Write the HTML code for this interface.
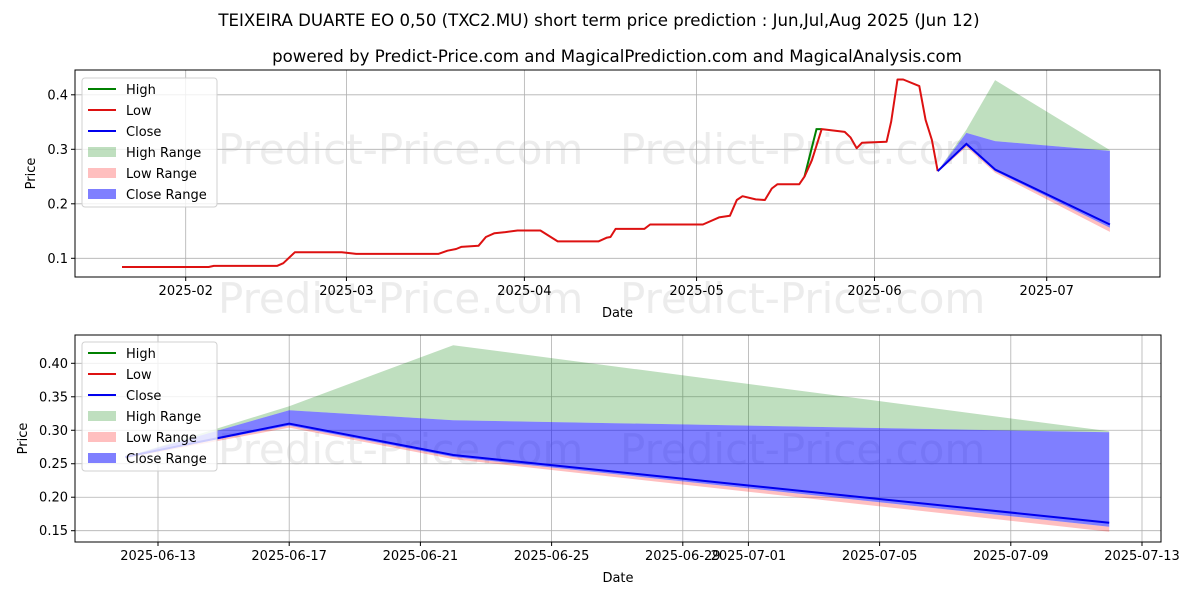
<!DOCTYPE html>
<html><head><meta charset="utf-8"><style>
body{margin:0;background:#fff;}
svg{font-family:"DejaVu Sans","Liberation Sans",sans-serif;}
</style></head><body>
<svg id="c" width="1200" height="600" viewBox="0 0 1200 600">
<text x="599" y="26" text-anchor="middle" font-size="16.6">TEIXEIRA DUARTE EO 0,50 (TXC2.MU) short term price prediction : Jun,Jul,Aug 2025 (Jun 12)</text>
<text x="617" y="62" text-anchor="middle" font-size="16.6">powered by Predict-Price.com and MagicalPrediction.com and MagicalAnalysis.com</text>
</svg>
<script>
// Day-of-year (Jan 1 = 0) historical data
const histDays=[19.9,35,35.9,46.9,48,50,58.2,60.7,75,76.6,78.1,79,82,83.3,84.8,86.7,88.8,92.8,95.8,102.9,104.4,105,105.9,110.9,111.9,121.1,123.9,125.8,127,128,130.3,131.9,133.1,134.1,137.9,138.8,140.1,141.8,145.8,146.8,147.9,148.8,153.1,153.9,155,156,158.8,159.9,161,162];
const histLow=[0.084,0.084,0.086,0.086,0.091,0.111,0.111,0.108,0.108,0.114,0.117,0.121,0.123,0.139,0.146,0.148,0.151,0.151,0.131,0.131,0.138,0.139,0.154,0.154,0.162,0.162,0.175,0.178,0.207,0.214,0.208,0.207,0.228,0.236,0.236,0.25,0.28,0.337,0.332,0.322,0.302,0.312,0.314,0.351,0.428,0.428,0.416,0.354,0.317,0.26];
const highDays=[138.8,140.9,141.8];
const highVals=[0.25,0.337,0.337];
// forecast points (day of year): Jun12, Jun17, Jun22, Jul12
const fcDays=[162,167,172,192];
const fcHighTop=[0.26,0.336,0.427,0.2985];
const fcCloseTop=[0.26,0.330,0.315,0.297];
const fcClose=[0.26,0.310,0.263,0.162];
const fcCloseBot=[0.26,0.307,0.260,0.156];
const fcLowBot=[0.258,0.304,0.257,0.1485];
const topXTicks=[[31,'2025-02'],[59,'2025-03'],[90,'2025-04'],[120,'2025-05'],[151,'2025-06'],[181,'2025-07']];
const topYTicks=[0.1,0.2,0.3,0.4];
const botXTicks=[[163,'2025-06-13'],[167,'2025-06-17'],[171,'2025-06-21'],[175,'2025-06-25'],[179,'2025-06-29'],[181,'2025-07-01'],[185,'2025-07-05'],[189,'2025-07-09'],[193,'2025-07-13']];
const botYTicks=[0.15,0.20,0.25,0.30,0.35,0.40];

const svg=document.getElementById('c');
const NS='http://www.w3.org/2000/svg';
function mk(tag,attrs,parent){const e=document.createElementNS(NS,tag);for(const k in attrs)e.setAttribute(k,attrs[k]);(parent||svg).appendChild(e);return e;}
function pts(xs,ys,X,Y){return xs.map((d,i)=>X(d).toFixed(1)+','+Y(ys[i]).toFixed(1)).join(' ');}
function band(xs,top,bot,X,Y){return pts(xs,top,X,Y)+' '+pts(xs.slice().reverse(),bot.slice().reverse(),X,Y);}

function panel(cfg){
  const {L,R,T,B,X,Y,xt,yt,yfmt,name,hist}=cfg;
  const g=mk('g',{});
  
  
  cfg.wm.forEach(w=>{const t=mk('text',{x:w[0],y:w[1],'font-size':42,fill:'#ececec'},g);t.textContent='Predict-Price.com';});
  xt.forEach(t=>{const l=mk('line',{x1:X(t[0]),x2:X(t[0]),y1:T,y2:B,stroke:'#b0b0b0','stroke-width':0.8},g);});
  yt.forEach(v=>{const l=mk('line',{x1:L,x2:R,y1:Y(v),y2:Y(v),stroke:'#b0b0b0','stroke-width':0.8},g);});
  let p=mk('polygon',{points:band(fcDays,fcHighTop,fcCloseTop,X,Y),fill:'#008000','fill-opacity':0.25},g);
  
  p=mk('polygon',{points:band(fcDays,fcCloseBot,fcLowBot,X,Y),fill:'#ff0000','fill-opacity':0.25},g);
  
  p=mk('polygon',{points:band(fcDays,fcCloseTop,fcCloseBot,X,Y),fill:'#0000ff','fill-opacity':0.5},g);
  
  if(hist){
    p=mk('polyline',{points:pts(highDays,highVals,X,Y),fill:'none',stroke:'#008000','stroke-width':2},g);
    
    p=mk('polyline',{points:pts(histDays,histLow,X,Y),fill:'none',stroke:'#dd1111','stroke-width':2,'stroke-linejoin':'round'},g);
    
  }
  p=mk('polyline',{points:pts(fcDays,fcClose,X,Y),fill:'none',stroke:'#0000ee','stroke-width':2},g);
  
  p=mk('rect',{x:L,y:T,width:R-L,height:B-T,fill:'none',stroke:'#000','stroke-width':1},g);
  
  xt.forEach(t=>{mk('line',{x1:X(t[0]),x2:X(t[0]),y1:B,y2:B+4,stroke:'#000'},g);const s=mk('text',{x:X(t[0]),y:B+18,'text-anchor':'middle','font-size':13},g);s.textContent=t[1];});
  yt.forEach(v=>{mk('line',{x1:L-4,x2:L,y1:Y(v),y2:Y(v),stroke:'#000'},g);const s=mk('text',{x:L-7,y:Y(v)+4.5,'text-anchor':'end','font-size':13},g);s.textContent=yfmt(v);});
  let s=mk('text',{x:(L+R)/2,y:B+40,'text-anchor':'middle','font-size':13},g);s.textContent='Date';
  
  s=mk('text',{x:0,y:0,'text-anchor':'middle','font-size':13,transform:`translate(${cfg.ylx},${(T+B)/2}) rotate(-90)`},g);s.textContent='Price';
  
  const lx=82,ly=cfg.legY;
  const lg=mk('g',{},g);
  
  mk('rect',{x:lx,y:ly,width:135,height:129,rx:3,fill:'#fff','fill-opacity':0.8,stroke:'#d0d0d0'},lg);
  const items=[['High','line','#008000',1],['Low','line','#dd1111',1],['Close','line','#0000ee',1],['High Range','box','#008000',0.25],['Low Range','box','#ff0000',0.25],['Close Range','box','#0000ff',0.5]];
  items.forEach((it,i)=>{const cy=ly+11+i*21;
    if(it[1]=='line')mk('line',{x1:lx+6,x2:lx+34,y1:cy,y2:cy,stroke:it[2],'stroke-width':2},lg);
    else mk('rect',{x:lx+6,y:cy-5,width:28,height:10,fill:it[2],'fill-opacity':it[3]},lg);
    const t=mk('text',{x:lx+44,y:cy+5,'font-size':13},lg);t.textContent=it[0];
    });
}
panel({name:'top-panel',L:75,R:1160,T:70,B:277,hist:true,
  X:d=>122+(d-19.9)*5.74,Y:v=>258.3-(v-0.1)*545,xt:topXTicks,yt:topYTicks,yfmt:v=>v.toFixed(1),ylx:35,legY:78,
  wm:[[218,164],[620,164],[218,313],[620,313]]});
panel({name:'bottom-panel',L:75,R:1161,T:335,B:542,hist:false,
  X:d=>158+(d-163)*32.8,Y:v=>530.7-(v-0.15)*669.6,xt:botXTicks,yt:botYTicks,yfmt:v=>v.toFixed(2),ylx:27,legY:342,
  wm:[[218,464],[620,464]]});
</script>
</body></html>
